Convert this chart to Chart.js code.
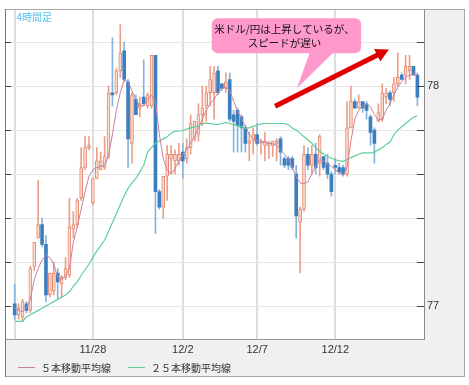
<!DOCTYPE html>
<html><head><meta charset="utf-8">
<script src="https://cdn.jsdelivr.net/npm/chart.js@4/dist/chart.umd.min.js"></script>
<style>html,body{margin:0;padding:0;background:#fff;}#wrap{width:469px;height:385px;position:relative;}</style>
</head><body><div id="wrap"><canvas id="c" width="469" height="385"></canvas></div>
<script>
// ---- data (4-hour candles, USD/JPY) ----
const opens = [77.01,76.96,76.95,77.01,76.98,77.18,77.31,77.37,77.28,77.05,
77.07,77.15,77.10,77.13,77.14,77.35,77.37,77.49,77.63,77.72,
77.47,77.58,77.62,77.63,77.68,77.97,77.97,78.07,78.16,78.02,
77.74,77.94,77.90,77.95,77.91,77.91,78.14,77.52,77.45,77.59,
77.67,77.66,77.66,77.70,77.67,77.72,77.76,77.78,77.87,77.91,
77.97,77.97,78.07,78.01,77.99,78.03,77.87,77.89,77.86,77.81,
77.74,77.75,77.78,77.74,77.73,77.73,77.73,77.74,77.76,77.67,
77.67,77.67,77.60,77.38,77.44,77.69,77.64,77.69,77.65,77.68,
77.65,77.60,77.64,77.63,77.63,77.60,77.81,77.93,77.90,77.93,
77.92,77.86,77.80,77.84,77.85,77.95,77.97,77.97,78.01,78.05,
78.05,78.07,78.09,78.05];
const highs = [77.10,77.01,77.03,77.02,77.18,77.29,77.57,77.40,77.32,77.15,
77.20,77.17,77.14,77.22,77.49,77.43,77.49,77.72,77.77,77.77,
77.58,77.72,77.70,77.77,78.00,78.22,78.08,78.28,78.20,78.03,
77.97,77.96,77.95,78.12,77.97,78.14,78.14,77.53,77.59,77.73,
77.73,77.71,77.74,77.74,77.76,77.87,77.84,77.92,78.00,78.00,
78.09,78.09,78.09,78.01,78.06,78.06,77.89,77.90,77.87,77.82,
77.79,77.81,77.83,77.76,77.79,77.75,77.75,77.76,77.77,77.68,
77.68,77.68,77.64,77.45,77.73,77.72,77.73,77.74,77.78,77.68,
77.69,77.61,77.67,77.65,77.64,77.93,78.00,77.94,77.96,77.93,
77.93,77.87,77.81,77.92,78.01,77.99,77.98,78.04,78.15,78.06,
78.14,78.14,78.09,78.06];
const lows = [76.94,76.94,76.93,76.97,76.97,77.16,77.31,77.27,77.02,77.04,
77.05,77.03,77.04,77.12,77.13,77.31,77.36,77.48,77.62,77.71,
77.46,77.58,77.62,77.62,77.67,77.91,77.96,78.04,78.02,77.63,
77.65,77.87,77.86,77.91,77.90,77.90,77.33,77.44,77.40,77.48,
77.60,77.60,77.64,77.58,77.65,77.69,77.75,77.75,77.82,77.84,
77.91,77.85,77.96,77.98,77.97,77.84,77.70,77.70,77.70,77.70,
77.66,77.69,77.73,77.69,77.66,77.67,77.68,77.66,77.64,77.63,
77.62,77.62,77.31,77.15,77.43,77.62,77.60,77.60,77.59,77.62,
77.58,77.50,77.60,77.60,77.59,77.59,77.81,77.90,77.90,77.88,
77.85,77.73,77.65,77.84,77.84,77.92,77.91,77.93,78.00,78.03,
78.01,78.03,78.05,77.91];
const closes = [76.96,76.99,77.02,76.98,77.17,77.29,77.37,77.28,77.05,77.15,
77.15,77.11,77.13,77.17,77.36,77.37,77.48,77.63,77.72,77.73,
77.58,77.66,77.66,77.68,77.97,77.96,78.07,78.15,78.03,77.76,
77.96,77.87,77.92,77.92,77.96,78.14,77.52,77.45,77.59,77.69,
77.69,77.69,77.69,77.66,77.72,77.83,77.84,77.87,77.90,77.97,
78.03,78.06,77.97,77.99,78.02,77.85,77.84,77.82,77.81,77.74,
77.75,77.78,77.74,77.75,77.75,77.74,77.75,77.75,77.70,77.64,
77.64,77.63,77.41,77.44,77.69,77.64,77.69,77.63,77.77,77.63,
77.60,77.52,77.63,77.61,77.60,77.81,77.93,77.90,77.93,77.90,
77.89,77.79,77.74,77.88,77.97,77.97,77.94,78.01,78.04,78.03,
78.09,78.09,78.05,77.95];
const ma5 = [76.99,76.98,76.975,76.99,77.03,77.12,77.17,77.21,77.23,77.22,
77.19,77.13,77.12,77.14,77.17,77.29,77.36,77.44,77.52,77.59,
77.62,77.63,77.635,77.64,77.685,77.78,77.89,77.97,78.03,78.02,
77.98,77.94,77.91,77.91,77.94,77.96,77.93,77.78,77.67,77.62,
77.60,77.625,77.66,77.69,77.71,77.74,77.77,77.81,77.85,77.89,
77.92,77.94,77.97,77.99,77.995,77.98,77.93,77.89,77.85,77.82,
77.78,77.76,77.75,77.75,77.745,77.74,77.738,77.73,77.71,77.69,
77.67,77.63,77.59,77.56,77.557,77.565,77.60,77.64,77.665,77.66,
77.645,77.635,77.62,77.605,77.595,77.63,77.75,77.85,77.89,77.91,
77.92,77.905,77.87,77.845,77.85,77.89,77.92,77.96,77.995,78.02,
78.04,78.05,78.056,78.05];
const ma25 = [76.93,76.93,76.93,76.95,76.96,76.97,76.98,76.99,77.00,77.01,
77.02,77.03,77.04,77.05,77.065,77.09,77.11,77.14,77.165,77.19,
77.22,77.25,77.275,77.30,77.34,77.38,77.42,77.46,77.50,77.535,
77.56,77.58,77.61,77.64,77.70,77.72,77.74,77.75,77.76,77.77,
77.785,77.795,77.796,77.797,77.805,77.81,77.815,77.82,77.83,77.832,
77.83,77.827,77.826,77.83,77.835,77.83,77.825,77.82,77.815,77.808,
77.81,77.818,77.822,77.828,77.83,77.83,77.83,77.83,77.83,77.83,
77.825,77.81,77.80,77.785,77.77,77.755,77.74,77.72,77.705,77.69,
77.68,77.672,77.665,77.66,77.658,77.665,77.675,77.683,77.69,77.696,
77.696,77.696,77.70,77.71,77.72,77.735,77.746,77.78,77.80,77.815,
77.83,77.845,77.858,77.865];
const dateTickPositions = [1, 21, 44, 63, 83];
const dateTickLabels = ['', '11/28', '12/2', '12/7', '12/12'];
const priceTicks = [77.0, 77.2, 77.4, 77.6, 77.8, 78.0, 78.2];
const priceTickLabels = ['77', '', '', '', '', '78', ''];
const seriesNames = ['５本移動平均線', '２５本移動平均線'];
const chartTitle = '4時間足';
const calloutLines = ['米ドル/円は上昇しているが、', 'スピードが遅い'];

// annotation anchors in data units (bar index, price)
const arrowFrom = {i: 67.6, v: 77.908};
const arrowTo = {i: 96.7, v: 78.167};
const calloutBox = {i0: 51.4, i1: 89.6, v0: 78.309, v1: 78.15};
const calloutTail = {i0: 76.5, i1: 82.6, tipI: 73.2, tipV: 77.99};

const C5 = '#c97fa2', C25 = '#5fcf98';
const UP_FILL = '#fbdcd1', UP_EDGE = '#e5896f', UP_WICK = '#ec9f88';
const DN_FILL = '#3c7fbf', DN_WICK = '#86b4dc';

const idx = opens.map((_, k) => k + 1);
const isUp = k => closes[k] >= opens[k];
const wickData = idx.map((x, k) => ({x, y: [lows[k], highs[k]]}));
const bodyData = idx.map((x, k) => ({x, y: [opens[k], closes[k]]}));

const CJK = "'Noto Sans CJK JP', 'Noto Sans', sans-serif";

const decor = {
  id: 'decor',
  beforeDraw(chart) {
    const ctx = chart.ctx, a = chart.chartArea;
    ctx.save();
    ctx.fillStyle = '#fff'; ctx.fillRect(0, 0, chart.width, chart.height);
    ctx.fillStyle = '#f0f0f0'; ctx.fillRect(5, 9, 460, 368);
    ctx.fillStyle = '#fff'; ctx.fillRect(a.left, a.top, a.right - a.left, a.bottom - a.top);
    ctx.restore();
  },
  afterDraw(chart) {
    const ctx = chart.ctx, a = chart.chartArea;
    const xs = chart.scales.x, ys = chart.scales.y;
    ctx.save();
    // frame
    ctx.lineWidth = 1;
    ctx.strokeStyle = '#a8a8a8';
    ctx.strokeRect(5.5, 9.5, 459, 367);
    ctx.strokeStyle = '#999';
    ctx.beginPath(); ctx.moveTo(a.left, a.bottom + 0.5); ctx.lineTo(a.right, a.bottom + 0.5); ctx.stroke();
    ctx.strokeStyle = '#8a8a8a';
    ctx.beginPath(); ctx.moveTo(a.right + 0.5, a.top); ctx.lineTo(a.right + 0.5, a.bottom + 1); ctx.stroke();
    ctx.strokeStyle = '#777';
    ctx.beginPath(); ctx.moveTo(5.5, 9); ctx.lineTo(5.5, 377); ctx.stroke();
    // inner tick marks
    ctx.strokeStyle = '#444';
    priceTicks.forEach(v => {
      const y = Math.round(ys.getPixelForValue(v)) + 0.5;
      ctx.beginPath(); ctx.moveTo(a.left, y); ctx.lineTo(a.left + 6, y); ctx.stroke();
      ctx.beginPath(); ctx.moveTo(a.right - 7, y); ctx.lineTo(a.right, y); ctx.stroke();
    });
    // title
    ctx.fillStyle = '#4fc0ef';
    ctx.font = '10px ' + CJK;
    ctx.textBaseline = 'middle'; ctx.textAlign = 'left';
    ctx.fillText(chartTitle, 16.5, 17.5);
    // callout
    const bx0 = xs.getPixelForValue(calloutBox.i0), bx1 = xs.getPixelForValue(calloutBox.i1);
    const by0 = ys.getPixelForValue(calloutBox.v0), by1 = ys.getPixelForValue(calloutBox.v1);
    const r = 6;
    ctx.fillStyle = '#ff99cc';
    ctx.beginPath();
    ctx.moveTo(bx0 + r, by0);
    ctx.lineTo(bx1 - r, by0); ctx.arcTo(bx1, by0, bx1, by0 + r, r);
    ctx.lineTo(bx1, by1 - r); ctx.arcTo(bx1, by1, bx1 - r, by1, r);
    ctx.lineTo(bx0 + r, by1); ctx.arcTo(bx0, by1, bx0, by1 - r, r);
    ctx.lineTo(bx0, by0 + r); ctx.arcTo(bx0, by0, bx0 + r, by0, r);
    ctx.closePath(); ctx.fill();
    ctx.beginPath();
    ctx.moveTo(xs.getPixelForValue(calloutTail.i0), by1 - 1);
    ctx.lineTo(xs.getPixelForValue(calloutTail.i1), by1 - 1);
    ctx.lineTo(xs.getPixelForValue(calloutTail.tipI), ys.getPixelForValue(calloutTail.tipV));
    ctx.closePath(); ctx.fill();
    ctx.fillStyle = '#111';
    ctx.font = '10.5px ' + CJK;
    ctx.textAlign = 'center';
    const cx = (bx0 + bx1) / 2 - 2;
    ctx.fillText(calloutLines[0], cx, by0 + 10.5);
    ctx.fillText(calloutLines[1], cx, by0 + 24.5);
    // arrow
    const x1 = xs.getPixelForValue(arrowFrom.i), y1 = ys.getPixelForValue(arrowFrom.v);
    const x2 = xs.getPixelForValue(arrowTo.i), y2 = ys.getPixelForValue(arrowTo.v);
    const dx = x2 - x1, dy = y2 - y1, L = Math.hypot(dx, dy), ux = dx / L, uy = dy / L;
    const hl = 13, hw = 7;
    const bx = x2 - ux * hl, by = y2 - uy * hl;
    ctx.strokeStyle = '#e00000'; ctx.fillStyle = '#e00000';
    ctx.lineWidth = 5; ctx.lineCap = 'butt';
    ctx.beginPath(); ctx.moveTo(x1, y1); ctx.lineTo(bx + ux * 2, by + uy * 2); ctx.stroke();
    ctx.beginPath();
    ctx.moveTo(x2, y2);
    ctx.lineTo(bx - uy * hw, by + ux * hw);
    ctx.lineTo(bx + uy * hw, by - ux * hw);
    ctx.closePath(); ctx.fill();
    // legend
    ctx.lineWidth = 1;
    ctx.font = '10px ' + CJK;
    ctx.textAlign = 'left'; ctx.textBaseline = 'middle';
    ctx.fillStyle = '#333';
    ctx.strokeStyle = C5;
    ctx.beginPath(); ctx.moveTo(18, 367.5); ctx.lineTo(35, 367.5); ctx.stroke();
    ctx.fillText(seriesNames[0], 41, 368);
    ctx.strokeStyle = C25;
    ctx.beginPath(); ctx.moveTo(128, 367.5); ctx.lineTo(145, 367.5); ctx.stroke();
    ctx.fillText(seriesNames[1], 151, 368);
    ctx.restore();
  }
};

new Chart(document.getElementById('c'), {
  type: 'line',
  data: {
    datasets: [
      { type: 'line', label: seriesNames[0], data: idx.map((x, k) => ({x, y: ma5[k]})),
        borderColor: C5, borderWidth: 1, pointRadius: 0, tension: 0, order: 1 },
      { type: 'line', label: seriesNames[1], data: idx.map((x, k) => ({x, y: ma25[k]})),
        borderColor: C25, borderWidth: 1.2, pointRadius: 0, tension: 0, order: 1 },
      { type: 'bar', label: 'body', data: bodyData, barThickness: 3, grouped: false, minBarLength: 1,
        backgroundColor: c => isUp(c.dataIndex) ? UP_FILL : DN_FILL,
        borderColor: c => isUp(c.dataIndex) ? UP_EDGE : DN_FILL,
        borderWidth: c => isUp(c.dataIndex) ? 1 : 0,
        borderSkipped: false, order: 2 },
      { type: 'bar', label: 'wick', data: wickData, barThickness: 1, grouped: false,
        backgroundColor: c => isUp(c.dataIndex) ? UP_WICK : DN_WICK,
        borderWidth: 0, order: 3 }
    ]
  },
  options: {
    responsive: false,
    devicePixelRatio: 1,
    animation: false,
    layout: { padding: { left: 5, top: 9, right: 0, bottom: 0 } },
    plugins: { legend: { display: false }, tooltip: { enabled: false }, title: { display: false } },
    scales: {
      x: {
        type: 'linear', min: -1.48, max: 105.69, offset: false, position: 'bottom',
        afterBuildTicks: s => { s.ticks = dateTickPositions.map(v => ({value: v})); },
        afterFit: s => { s.height = 46; },
        ticks: { autoSkip: false, maxRotation: 0, padding: 4, color: '#333',
          font: { family: "'Liberation Sans', Arial, sans-serif", size: 11 },
          callback: (v, i) => dateTickLabels[i] },
        grid: { color: '#dedede', lineWidth: 2, drawTicks: false, offset: false },
        border: { display: false }
      },
      y: {
        type: 'linear', position: 'right', min: 76.85, max: 78.348,
        afterBuildTicks: s => { s.ticks = priceTicks.map(v => ({value: v})); },
        afterFit: s => { s.width = 45; },
        ticks: { padding: 3, color: '#333',
          font: { family: "'Liberation Sans', Arial, sans-serif", size: 11 },
          callback: (v, i) => priceTickLabels[i] },
        grid: { color: '#e6e6e6', lineWidth: 1, drawTicks: false },
        border: { display: false }
      }
    }
  },
  plugins: [decor]
});
</script>
</body></html>
